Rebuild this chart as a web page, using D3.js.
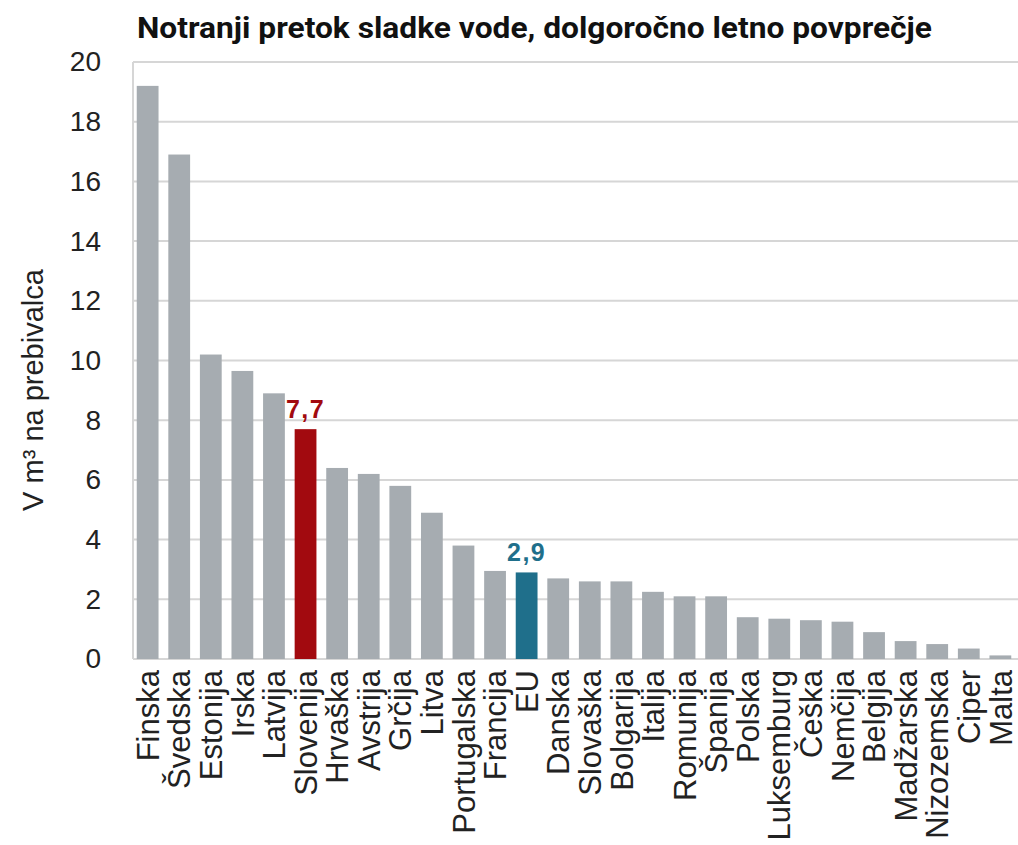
<!DOCTYPE html>
<html><head><meta charset="utf-8">
<script src="https://cdn.jsdelivr.net/npm/d3@7"></script>
<style>body{margin:0;background:#fff}svg{display:block}</style>
</head><body>
<svg id="c" width="1018" height="845"></svg>
<script>
const categories = ["Finska","Švedska","Estonija","Irska","Latvija","Slovenija","Hrvaška","Avstrija","Grčija","Litva","Portugalska","Francija","EU","Danska","Slovaška","Bolgarija","Italija","Romunija","Španija","Polska","Luksemburg","Češka","Nemčija","Belgija","Madžarska","Nizozemska","Ciper","Malta"];
const values = [19.2,16.9,10.2,9.65,8.9,7.7,6.4,6.2,5.8,4.9,3.8,2.95,2.9,2.7,2.6,2.6,2.25,2.1,2.1,1.4,1.35,1.3,1.25,0.9,0.6,0.5,0.35,0.12];
const highlights = {"Slovenija":{color:"#a20a0f",label:"7,7"},"EU":{color:"#1f6f8b",label:"2,9"}};
const yTicks = [0,2,4,6,8,10,12,14,16,18,20];
const title = "Notranji pretok sladke vode, dolgoročno letno povprečje";
const yTitle = "V m³ na prebivalca";

const svg = d3.select("#c");
const x = d3.scaleBand().domain(categories).range([132,1016]).paddingInner(0.31).paddingOuter(0.15);
const y = d3.scaleLinear().domain([0,20]).range([659,62]);

// grid
svg.append("g").selectAll("line").data(yTicks).join("line")
  .attr("x1",133).attr("x2",1018).attr("y1",d=>y(d)).attr("y2",d=>y(d))
  .attr("stroke","#d6d6d6").attr("stroke-width",2);
svg.append("line").attr("x1",133).attr("x2",133).attr("y1",y(20)).attr("y2",y(0))
  .attr("stroke","#d6d6d6").attr("stroke-width",2);

// y axis
const ya = svg.append("g").attr("transform","translate(101,0)")
  .call(d3.axisLeft(y).tickValues(yTicks).tickSize(0).tickPadding(0).tickFormat(d3.format("d")));
ya.select(".domain").remove();
ya.selectAll("text").attr("font-family","Liberation Sans, Arial, sans-serif").attr("font-size",28).attr("fill","#222");

// bars
svg.append("g").selectAll("rect").data(categories).join("rect")
  .attr("x",d=>x(d)).attr("width",x.bandwidth())
  .attr("y",(d,i)=>y(values[i])).attr("height",(d,i)=>y(0)-y(values[i]))
  .attr("fill",d=>highlights[d]?highlights[d].color:"#a6acb1");

// value labels
svg.append("g").selectAll("text").data(categories.filter(d=>highlights[d])).join("text")
  .attr("x",d=>x(d)+x.bandwidth()/2)
  .attr("y",d=>y(values[categories.indexOf(d)])-11)
  .attr("text-anchor","middle").attr("font-family","Liberation Sans, Arial, sans-serif")
  .attr("font-weight","bold").attr("font-size",25).attr("letter-spacing",1.5)
  .attr("fill",d=>highlights[d].color).text(d=>highlights[d].label);

// x axis labels
const xa = svg.append("g").attr("transform","translate(0,670)")
  .call(d3.axisBottom(x).tickSize(0).tickPadding(0));
xa.select(".domain").remove();
xa.selectAll("text").attr("transform","rotate(-90)").attr("text-anchor","end")
  .attr("x",0).attr("y",0).attr("dy","0.36em")
  .attr("font-family","Liberation Sans, Arial, sans-serif").attr("font-size",31).attr("fill","#222");

// y title
svg.append("text").attr("transform","translate(43,390) rotate(-90)")
  .attr("text-anchor","middle").attr("font-family","Liberation Sans, Arial, sans-serif")
  .attr("font-size",29).attr("fill","#222").text(yTitle);

// title
svg.append("text").attr("x",137).attr("y",38)
  .attr("font-family","Roboto, Liberation Sans, sans-serif").attr("font-weight","bold")
  .attr("font-size",30).attr("fill","#111")
  .attr("textLength",795).attr("lengthAdjust","spacingAndGlyphs").text(title);
</script>
</body></html>
